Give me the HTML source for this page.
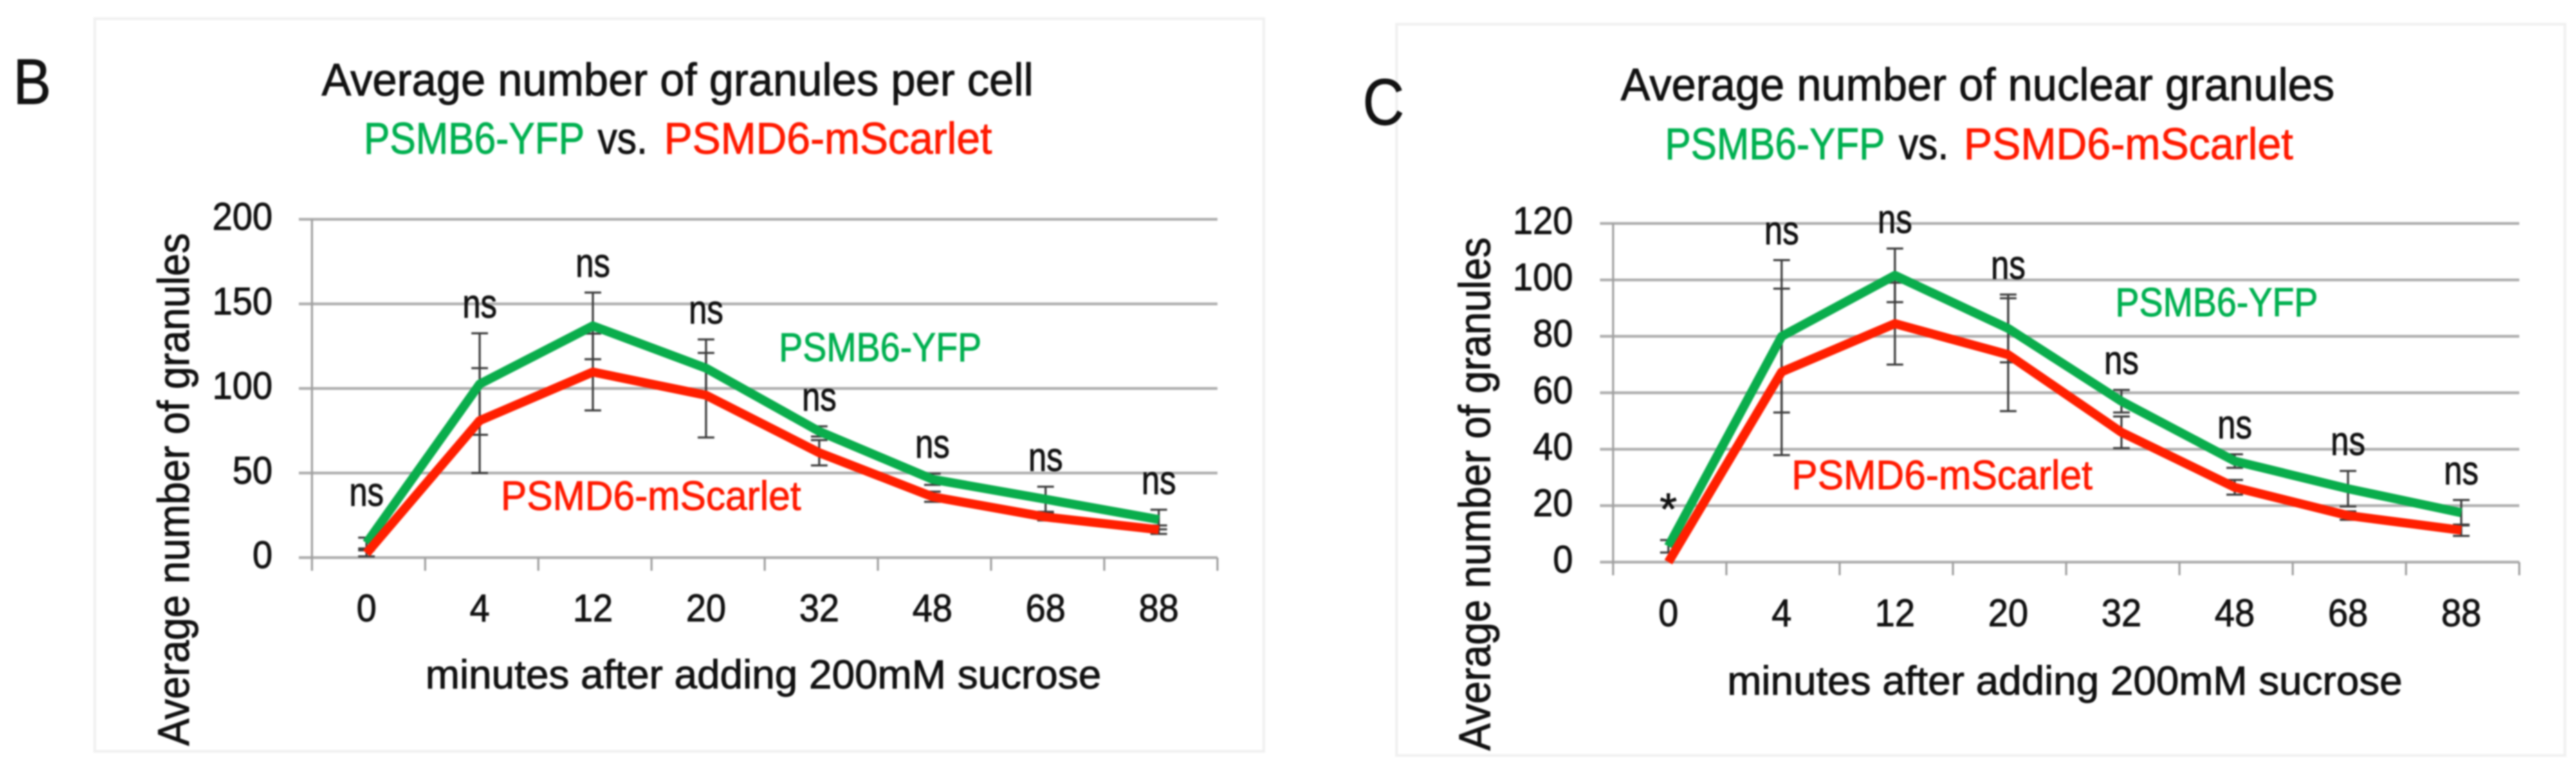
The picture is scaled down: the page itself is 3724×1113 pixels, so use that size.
<!DOCTYPE html>
<html lang="en">
<head>
<meta charset="utf-8">
<title>Average number of granules: PSMB6-YFP vs. PSMD6-mScarlet</title>
<style>
html,body{margin:0;padding:0;background:#fff;width:3724px;height:1113px;overflow:hidden}
svg{position:absolute;left:0;top:0;filter:blur(1px)}
text{font-family:"Liberation Sans",sans-serif;color:#111;fill:currentColor;stroke:currentColor;stroke-width:.9}
.green{color:#00b050}
.red{color:#ff1a00}
.frame{fill:#fff;stroke:#f1f1f1;stroke-width:4}
</style>
</head>
<body>
<svg xmlns="http://www.w3.org/2000/svg" width="3724" height="1113" viewBox="0 0 3724 1113">
  <rect width="3724" height="1113" fill="#fff"/>

  <g id="panel-b">
    <rect class="frame" x="137" y="27" width="1690" height="1059"/>
    <text x="19" y="150" font-size="93" textLength="55" lengthAdjust="spacingAndGlyphs">B</text>
    <text x="465" y="138" font-size="66" textLength="1029" lengthAdjust="spacingAndGlyphs">Average number of granules per cell</text>
    <text class="green" x="526" y="222" font-size="64" textLength="319" lengthAdjust="spacingAndGlyphs">PSMB6-YFP</text>
    <text x="864" y="222" font-size="64" textLength="72" lengthAdjust="spacingAndGlyphs">vs.</text>
    <text class="red" x="960" y="222" font-size="64" textLength="474" lengthAdjust="spacingAndGlyphs">PSMD6-mScarlet</text>
    <g id="plot-b"></g>
    <text x="1126" y="522" class="green" font-size="58" textLength="293" lengthAdjust="spacingAndGlyphs">PSMB6-YFP</text>
    <text x="724" y="737" class="red" font-size="59" textLength="434" lengthAdjust="spacingAndGlyphs">PSMD6-mScarlet</text>
    <text x="615" y="995" font-size="58" textLength="977" lengthAdjust="spacingAndGlyphs">minutes after adding 200mM sucrose</text>
    <text transform="translate(273,1078) rotate(-90)" font-size="64" textLength="741" lengthAdjust="spacingAndGlyphs">Average number of granules</text>
  </g>

  <g id="panel-c">
    <rect class="frame" x="2019" y="35" width="1689" height="1057"/>
    <text x="1970" y="180" font-size="95" textLength="60" lengthAdjust="spacingAndGlyphs">C</text>
    <text x="2343" y="145" font-size="66" textLength="1032" lengthAdjust="spacingAndGlyphs">Average number of nuclear granules</text>
    <text class="green" x="2407" y="230" font-size="64" textLength="318" lengthAdjust="spacingAndGlyphs">PSMB6-YFP</text>
    <text x="2745" y="230" font-size="64" textLength="72" lengthAdjust="spacingAndGlyphs">vs.</text>
    <text class="red" x="2839" y="230" font-size="64" textLength="476" lengthAdjust="spacingAndGlyphs">PSMD6-mScarlet</text>
    <g id="plot-c"></g>
    <text x="3058" y="457" class="green" font-size="58" textLength="293" lengthAdjust="spacingAndGlyphs">PSMB6-YFP</text>
    <text x="2590" y="707" class="red" font-size="59" textLength="435" lengthAdjust="spacingAndGlyphs">PSMD6-mScarlet</text>
    <text x="2497" y="1004" font-size="58" textLength="976" lengthAdjust="spacingAndGlyphs">minutes after adding 200mM sucrose</text>
    <text transform="translate(2154,1085) rotate(-90)" font-size="64" textLength="742" lengthAdjust="spacingAndGlyphs">Average number of granules</text>
  </g>
</svg>
<script>
var categories = ['0', '4', '12', '20', '32', '48', '68', '88'];

var bYTicks = [0, 50, 100, 150, 200];
var bGreen = [8.6, 102.6, 137, 112, 74.6, 46.3, 34.5, 22.5];
var bRed = [2.5, 81, 109.7, 96, 62, 36, 24, 16.5];
var bGreenErr = [3.2, 30, 19.7, 17, 3, 3.3, 7.4, 5.8];
var bRedErr = [1.8, 31, 22.7, 25, 7.5, 3, 2, 2.5];
var bSignificance = ['ns', 'ns', 'ns', 'ns', 'ns', 'ns', 'ns', 'ns'];

var cYTicks = [0, 20, 40, 60, 80, 100, 120];
var cGreen = [5.6, 80, 101.6, 82.8, 57, 35.8, 26, 17.5];
var cRed = [0, 67.4, 84.5, 73.5, 46, 26.5, 16.5, 11.3];
var cGreenErr = [2.2, 27, 9.5, 12, 4, 2.4, 6.3, 4.5];
var cRedErr = [0, 29.5, 14.5, 20, 5.6, 2.6, 1.5, 2];
var cSignificance = ['*', 'ns', 'ns', 'ns', 'ns', 'ns', 'ns', 'ns'];

var SVGNS = 'http://www.w3.org/2000/svg';

function make(parent, tag, attrs, content) {
  var node = document.createElementNS(SVGNS, tag);
  for (var key in attrs) node.setAttribute(key, attrs[key]);
  if (content !== undefined) node.textContent = content;
  parent.appendChild(node);
  return node;
}

function drawChart(host, prefix, frame, yTicks, greenVals, redVals, greenErr, redErr, sigLabels) {
  var bandWidth = (frame.right - frame.left) / categories.length;
  var yMax = yTicks[yTicks.length - 1];
  function x(i) { return frame.left + bandWidth * (i + 0.5) + frame.shift; }
  function y(v) { return frame.bottom - (v / yMax) * (frame.bottom - frame.top); }

  yTicks.forEach(function (tick) {
    var grid = make(host, 'line', {x1: frame.left - 19, x2: frame.right, y1: y(tick), y2: y(tick), stroke: '#aeaeae', 'stroke-width': 4});
    
    
    var label = make(host, 'text', {x: frame.labelRight, y: y(tick) + 15, 'text-anchor': 'end', 'font-size': 56, textLength: String(tick).length * 29, lengthAdjust: 'spacingAndGlyphs'}, String(tick));
    
    
  });

  var axisLine = make(host, 'line', {x1: frame.left, x2: frame.left, y1: frame.top, y2: frame.bottom + 19, stroke: '#a0a0a0', 'stroke-width': 3});
  
  

  for (var k = 1; k <= categories.length; k++) {
    var tx = frame.left + bandWidth * k;
    var tickMark = make(host, 'line', {x1: tx, x2: tx, y1: frame.bottom, y2: frame.bottom + 19, stroke: '#a0a0a0', 'stroke-width': 3});
    
    
  }

  categories.forEach(function (cat, i) {
    var label = make(host, 'text', {x: x(i), y: frame.xLabelBaseline, 'text-anchor': 'middle', 'font-size': 56, textLength: cat.length * 29, lengthAdjust: 'spacingAndGlyphs'}, cat);
    
    
  });

  function errorBars(vals, errs, name) {
    vals.forEach(function (v, i) {
      if (!errs[i]) return;
      var hi = y(v + errs[i]), lo = y(Math.max(v - errs[i], 0)), cx = x(i);
      var stem = make(host, 'line', {x1: cx, x2: cx, y1: hi, y2: lo, stroke: '#3c3c3c', 'stroke-width': 3});
      
      
      var capTop = make(host, 'line', {x1: cx - 12, x2: cx + 12, y1: hi, y2: hi, stroke: '#3c3c3c', 'stroke-width': 3});
      
      
      var capBottom = make(host, 'line', {x1: cx - 12, x2: cx + 12, y1: lo, y2: lo, stroke: '#3c3c3c', 'stroke-width': 3});
      
      
    });
  }
  errorBars(greenVals, greenErr, 'psmb6-yfp');
  errorBars(redVals, redErr, 'psmd6-mscarlet');

  function series(vals, color, name) {
    var pts = vals.map(function (v, i) { return x(i) + ',' + y(v); }).join(' ');
    var line = make(host, 'polyline', {points: pts, fill: 'none', stroke: color, 'stroke-width': 13, 'stroke-linejoin': 'round', 'stroke-linecap': 'butt'});
    
    
  }
  series(greenVals, '#0aad4c', 'psmb6-yfp');
  series(redVals, '#ff1f00', 'psmd6-mscarlet');

  sigLabels.forEach(function (mark, i) {
    var topCap = y(greenVals[i] + greenErr[i]);
    var lift = 23 + (i === 0 ? frame.firstLabelLift : 0);
    var isStar = mark === '*';
    var label = make(host, 'text', {x: x(i), y: topCap - lift, 'text-anchor': 'middle', 'font-size': isStar ? 64 : 58}, mark);
    if (!isStar) {
      label.setAttribute('textLength', 50);
      label.setAttribute('lengthAdjust', 'spacingAndGlyphs');
    }
    
    
  });
}

drawChart(document.getElementById('plot-b'), 'b',
  {left: 451, right: 1760, top: 317, bottom: 806, shift: -3, labelRight: 394, xLabelBaseline: 898, firstLabelLift: 23},
  bYTicks, bGreen, bRed, bGreenErr, bRedErr, bSignificance);

drawChart(document.getElementById('plot-c'), 'c',
  {left: 2332, right: 3642, top: 323, bottom: 812.5, shift: -2, labelRight: 2274, xLabelBaseline: 905, firstLabelLift: 0},
  cYTicks, cGreen, cRed, cGreenErr, cRedErr, cSignificance);
</script>
</body>
</html>
